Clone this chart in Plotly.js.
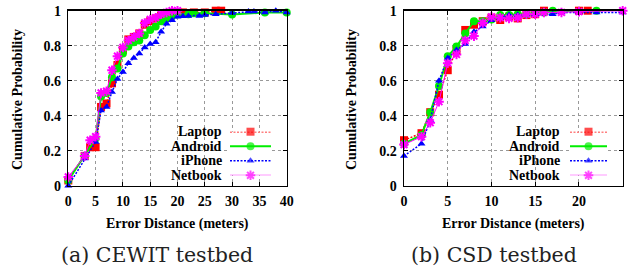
<!DOCTYPE html>
<html>
<head>
<meta charset="utf-8">
<script src="https://cdn.plot.ly/plotly-3.0.1.min.js"></script>
<style>html,body{margin:0;padding:0;background:#fff;}#chart{width:629px;height:269px;}</style>
</head>
<body>
<div id="chart"></div>
<script>
// ---------- data ----------
const seriesNames = ["Laptop", "Android", "iPhone", "Netbook"];

// (a) CEWIT testbed
const cewitLaptopX  = [0,3,4,5,6,7,8,9,10,11,12,13,14,15,16,17,18,19,20,21,23,25,27,28];
const cewitLaptopY  = [0.03,0.17,0.22,0.22,0.45,0.47,0.585,0.69,0.775,0.836,0.85,0.87,0.92,0.94,0.956,0.97,0.98,0.985,0.99,0.99,0.99,0.99,1.0,1.0];
const cewitAndroidX = [0,3,5,6,7,8,9,10,11,12,13,14,15,16,17,18,19,20,22,23,25,30,36,40];
const cewitAndroidY = [0.03,0.17,0.27,0.51,0.53,0.62,0.67,0.755,0.795,0.82,0.83,0.86,0.89,0.91,0.94,0.956,0.97,0.98,0.98,0.985,0.985,0.978,0.99,0.99];
const cewitIphoneX  = [0,3,5,6,7,8,9,10,11,12,13,14,15,16,17,18,19,20,21,22,24,25,27,30,33,34,36,38,40];
const cewitIphoneY  = [0.0,0.155,0.25,0.43,0.45,0.535,0.61,0.65,0.70,0.73,0.755,0.79,0.81,0.82,0.88,0.925,0.945,0.965,0.968,0.97,0.97,0.975,0.98,0.987,0.995,0.995,0.99,1.0,0.99];
const cewitNetbookX = [0,3,4,5,6,7,8,9,10,11,12,13,14,15,16,17,18,19,20];
const cewitNetbookY = [0.05,0.17,0.26,0.28,0.53,0.54,0.66,0.74,0.79,0.83,0.85,0.87,0.93,0.95,0.96,0.98,0.99,1.0,1.0];

// (b) CSD testbed
const csdLaptopX  = [0,2,3,4,5,6,7,8,9,10,11,12,13,14,15,16,20,21];
const csdLaptopY  = [0.26,0.30,0.42,0.52,0.66,0.775,0.89,0.92,0.94,0.96,0.947,0.966,0.956,0.975,0.98,1.0,1.0,1.0];
const csdAndroidX = [0,2,3,4,5,6,7,8,9,10,11,12,13,14,15,16,17,22];
const csdAndroidY = [0.24,0.29,0.42,0.57,0.74,0.795,0.87,0.94,0.94,0.95,0.975,0.975,0.98,0.98,0.985,0.99,1.0,1.0];
const csdIphoneX  = [0,2,3,4,5,6,7,8,9,10,11,12,13,14,15,17,18,20,22,25];
const csdIphoneY  = [0.17,0.24,0.375,0.60,0.73,0.775,0.81,0.88,0.91,0.945,0.96,0.975,0.975,0.975,0.975,0.98,0.99,0.99,0.99,0.99];
const csdNetbookX = [0,2,3,4,5,6,7,8,9,10,11,12,13,14,15,16,18,20,25];
const csdNetbookY = [0.235,0.28,0.36,0.48,0.70,0.75,0.83,0.855,0.93,0.965,0.96,0.956,0.96,0.98,0.98,0.99,0.99,0.995,1.0];

const yTickVals = [0,0.2,0.4,0.6,0.8,1];
const yTickText = ["0","0.2","0.4","0.6","0.8","1"];
const cewitXTicks = [0,5,10,15,20,25,30,35,40];
const csdXTicks = [0,5,10,15,20,25];

const yTitle = "Cumulative Probability";
const xTitle = "Error Distance (meters)";
const captions = ["(a) CEWIT testbed", "(b) CSD testbed"];

// ---------- styles ----------
const styles = [
  {color:"#ff0000", symbol:"square",        size:8, lw:1.5, dash:"2px,1.5px"},
  {color:"#00ee00", symbol:"circle",        size:8, lw:2,   dash:"solid"},
  {color:"#0000ff", symbol:"triangle-up",   size:7, lw:1.5, dash:"2px,1.5px"},
  {color:"#ff00ff", symbol:"asterisk-open", size:8, lw:1,   dash:"solid"}
];

function mk(x, y, i, xa, ya) {
  const s = styles[i];
  return {
    x: x, y: y, xaxis: xa, yaxis: ya, type: "scatter", mode: "lines+markers",
    name: seriesNames[i], showlegend: false, cliponaxis: false,
    line: {color: s.color, width: s.lw, dash: s.dash},
    marker: {symbol: s.symbol, size: s.size, color: s.color,
             line: {color: s.color, width: s.symbol === "asterisk-open" ? 2 : 0}}
  };
}

const W = 629, H = 269;
const px = v => v / W;
const py = v => (H - v) / H;

const traces = [
  mk(cewitLaptopX, cewitLaptopY, 0, "x", "y"),
  mk(cewitAndroidX, cewitAndroidY, 1, "x", "y"),
  mk(cewitIphoneX, cewitIphoneY, 2, "x", "y"),
  mk(cewitNetbookX, cewitNetbookY, 3, "x", "y"),
  mk(csdLaptopX, csdLaptopY, 0, "x2", "y2"),
  mk(csdAndroidX, csdAndroidY, 1, "x2", "y2"),
  mk(csdIphoneX, csdIphoneY, 2, "x2", "y2"),
  mk(csdNetbookX, csdNetbookY, 3, "x2", "y2")
];

// legend samples (drawn on hidden overlay axes)
const legendRow = [3, 2, 1, 0];
[["x3","y3"],["x4","y4"]].forEach(([xa, ya]) => {
  seriesNames.forEach((n, i) => {
    const s = styles[i];
    traces.push({
      x: [0, 0.5, 1], y: [legendRow[i], legendRow[i], legendRow[i]],
      xaxis: xa, yaxis: ya, type: "scatter", mode: "lines+markers",
      showlegend: false, cliponaxis: false, hoverinfo: "skip",
      line: {color: s.color, width: s.lw, dash: s.dash},
      marker: {symbol: s.symbol, size: [0, s.size, 0], color: s.color,
               line: {color: s.color, width: s.symbol === "asterisk-open" ? 2 : 0}}
    });
  });
});

const SERIF = "Liberation Serif, Times New Roman, Times, serif";
const tickFont = {family: SERIF, size: 14, color: "#000", weight: "bold"};
const yDom = [py(185.7), py(10.7)];

function xAxis(dom, range, ticks, anchor) {
  return {
    domain: dom, range: range, tickvals: ticks, anchor: anchor,
    showline: true, linecolor: "#000", linewidth: 1.5, mirror: "ticks",
    ticks: "inside", ticklen: 4, tickwidth: 1, tickcolor: "#000",
    showgrid: true, gridcolor: "#999", griddash: "dot", gridwidth: 1,
    zeroline: false, tickfont: tickFont, ticklabelstandoff: 2, fixedrange: true
  };
}
function yAxis(anchor) {
  return {
    domain: yDom, range: [0, 1], tickvals: yTickVals, ticktext: yTickText, anchor: anchor,
    showline: true, linecolor: "#000", linewidth: 1.5, mirror: "ticks",
    ticks: "inside", ticklen: 4, tickwidth: 1, tickcolor: "#000",
    showgrid: true, gridcolor: "#999", griddash: "dot", gridwidth: 1,
    zeroline: false, tickfont: tickFont, ticklabelstandoff: 3, fixedrange: true
  };
}
const legDomY = [py(175.3), py(131.7)];
function hidden(dom, range, anchor) {
  return {domain: dom, range: range, visible: false, anchor: anchor, fixedrange: true};
}

const labelFont = {family: SERIF, size: 14, color: "#000", weight: "bold"};
const capFont = {family: "DejaVu Serif, serif", size: 20.5, color: "#222"};

const annotations = [];
// axis titles
[[17, 177.5], [351, 513.5]].forEach(([yx, xx]) => {
  annotations.push({text: yTitle, xref: "paper", yref: "paper", x: px(yx), y: py(100),
    textangle: -90, showarrow: false, font: labelFont, xanchor: "center", yanchor: "middle"});
  annotations.push({text: xTitle, xref: "paper", yref: "paper", x: px(xx), y: py(224),
    showarrow: false, font: labelFont, xanchor: "center", yanchor: "middle"});
});
// captions
[[157.5, captions[0]], [493.5, captions[1]]].forEach(([cx, t]) => {
  annotations.push({text: t, xref: "paper", yref: "paper", x: px(cx), y: py(255),
    showarrow: false, font: capFont, xanchor: "center", yanchor: "middle"});
});
// legend labels
const legRowsY = [131.7, 146.2, 160.8, 175.3];
[224.5, 561.7].forEach(tx => {
  seriesNames.forEach((n, i) => {
    annotations.push({text: n, xref: "paper", yref: "paper", x: px(tx), y: py(legRowsY[i]),
      showarrow: false, font: labelFont, xanchor: "right", yanchor: "middle"});
  });
});

const layout = {
  width: W, height: H,
  margin: {l: 0, r: 0, t: 0, b: 0, pad: 0},
  paper_bgcolor: "#fff", plot_bgcolor: "#fff",
  showlegend: false,
  xaxis: xAxis([px(68.3), px(286.7)], [0, 40], cewitXTicks, "y"),
  yaxis: yAxis("x"),
  xaxis2: xAxis([px(404), px(622.7)], [0, 25], csdXTicks, "y2"),
  yaxis2: yAxis("x2"),
  xaxis3: hidden([px(230), px(271)], [0, 1], "y3"),
  yaxis3: hidden(legDomY, [0, 3], "x3"),
  xaxis4: hidden([px(570), px(607)], [0, 1], "y4"),
  yaxis4: hidden(legDomY, [0, 3], "x4"),
  annotations: annotations
};

Plotly.newPlot("chart", traces, layout, {staticPlot: true, displayModeBar: false});
</script>
</body>
</html>
